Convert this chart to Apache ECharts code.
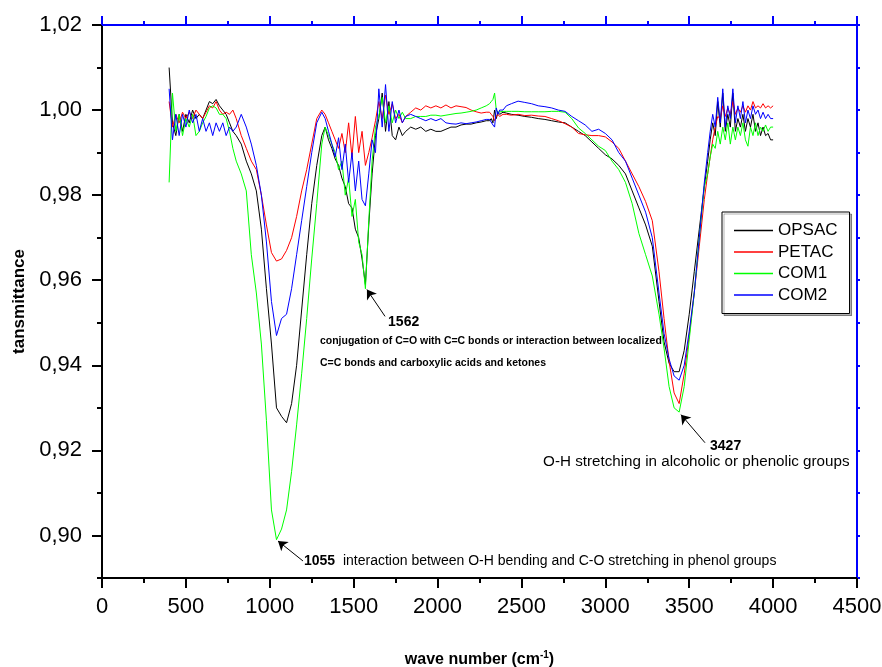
<!DOCTYPE html>
<html>
<head>
<meta charset="utf-8">
<script src="https://cdn.jsdelivr.net/npm/echarts@6/dist/echarts.min.js"></script>
<style>
  html, body { margin: 0; padding: 0; background: #fff; }
  #chart { width: 882px; height: 667px; }
</style>
</head>
<body>
<div id="chart"></div>
<script>
// wave numbers (cm-1), shared by all four spectra
const wavenumbers = [
  400, 420, 440, 460, 480, 500, 520, 540, 560, 580, 600, 620, 640, 660, 680, 700, 720, 740, 760, 780, 800,
  830, 860, 890, 920, 950, 980, 1010, 1040, 1070, 1100, 1130, 1160, 1190, 1220, 1250, 1280, 1310,
  1330, 1350, 1370, 1390, 1410, 1430, 1450, 1470, 1490, 1510, 1530, 1550, 1570, 1590, 1610, 1630, 1650, 1670, 1690, 1710, 1730, 1750, 1770, 1790, 1810,
  1840, 1870, 1900, 1930, 1960, 1990, 2020, 2050, 2080, 2110, 2140, 2170, 2200, 2230, 2260, 2290,
  2310, 2320, 2330, 2340, 2350, 2360, 2370, 2390, 2410,
  2440, 2480, 2520, 2560, 2600, 2640, 2680, 2720, 2760, 2800, 2840, 2880, 2920, 2960, 3000, 3040, 3080, 3120, 3160, 3200, 3240, 3280,
  3320, 3350, 3380, 3410, 3440, 3470, 3500, 3530, 3560, 3590,
  3610, 3625, 3640, 3655, 3670, 3685, 3700, 3715, 3730, 3745, 3760, 3775, 3790, 3805, 3820, 3835, 3850, 3865, 3880, 3895, 3910, 3925, 3940, 3955, 3970, 3985, 4000
];

const opsac = [
  1.010, 0.997, 0.994, 0.999, 0.995, 0.999, 0.997, 1.000, 0.998, 0.999, 0.998, 1.000, 1.002, 1.0015, 1.0025, 1.001, 1.000, 0.999, 0.997, 0.995, 0.994,
  0.992, 0.988, 0.985, 0.981, 0.972, 0.958, 0.945, 0.930, 0.928, 0.9265, 0.931, 0.940, 0.953, 0.966, 0.978, 0.987, 0.994,
  0.996, 0.993, 0.991, 0.9885, 0.987, 0.984, 0.982, 0.978, 0.977, 0.972, 0.970, 0.965, 0.959, 0.973, 0.985, 0.994, 0.998, 1.004, 0.995, 1.002, 0.994, 0.993, 0.996, 0.994, 0.995,
  0.996, 0.9955, 0.996, 0.995, 0.9955, 0.995, 0.995, 0.9955, 0.996, 0.996, 0.9965, 0.9967, 0.9967, 0.997, 0.9972, 0.9975,
  0.9975, 0.998, 0.997, 1.000, 0.998, 0.9995, 0.999, 0.9995, 0.9993,
  0.999, 0.9988, 0.9985, 0.9983, 0.998, 0.9978, 0.9975, 0.9972, 0.997, 0.996, 0.995, 0.994, 0.9925, 0.991, 0.9895, 0.9885, 0.987, 0.985, 0.981, 0.977, 0.973, 0.968,
  0.955, 0.9455, 0.9405, 0.9385, 0.9385, 0.9435, 0.952, 0.962, 0.972, 0.982,
  0.988, 0.993, 0.997, 0.994, 1.002, 0.996, 1.004, 0.995, 0.999, 0.996, 1.004, 0.995, 0.998, 0.996, 0.999, 0.995, 0.998, 0.996, 0.999, 0.995, 0.997, 0.994, 0.996, 0.994, 0.9945, 0.993, 0.993
];

const petac = [
  1.002, 0.996, 0.999, 0.997, 0.9995, 0.998, 0.9995, 0.998, 1.000, 0.999, 0.998, 0.9995, 1.001, 1.0005, 1.002, 1.000, 0.999, 0.9995, 0.999, 1.000, 0.998,
  0.994, 0.991, 0.988, 0.986, 0.980, 0.973, 0.9665, 0.9645, 0.965, 0.967, 0.970, 0.975, 0.981, 0.986, 0.992, 0.998, 1.000,
  0.999, 0.997, 0.995, 0.993, 0.991, 0.9945, 0.990, 0.997, 0.989, 0.9985, 0.990, 0.995, 0.987, 0.990, 0.9935, 0.9975, 1.002, 0.998, 1.0035, 0.999, 1.0015, 0.998, 0.999, 0.997, 0.9985,
  0.9995, 1.0005, 1.000, 1.001, 1.0005, 1.001, 1.0005, 1.0012, 1.0005, 1.001, 1.0008, 1.0006, 1.000, 0.9996, 0.9993, 0.9995,
  0.9995, 0.999, 0.9985, 0.9975, 0.9985, 0.999, 0.9985, 0.999, 0.999,
  0.9988, 0.999, 0.9987, 0.9988, 0.9986, 0.9985, 0.998, 0.9975, 0.9968, 0.996, 0.9945, 0.9942, 0.994, 0.994, 0.9937, 0.9925, 0.991, 0.988, 0.985, 0.982, 0.9785, 0.974,
  0.962, 0.951, 0.941, 0.9335, 0.931, 0.938, 0.947, 0.957, 0.968, 0.979,
  0.985, 0.989, 0.993, 0.996, 0.9985, 0.998, 1.001, 0.9985, 1.0005, 0.999, 1.002, 0.999, 1.0005, 0.9995, 1.001, 0.9995, 1.001, 1.000, 1.002, 1.0005, 1.001, 1.0005, 1.0015, 1.0005, 1.001, 1.0005, 1.001
];

const com1 = [
  0.983, 1.004, 0.995, 0.999, 0.994, 0.998, 0.996, 0.999, 0.994, 0.995, 0.997, 0.9985, 1.0005, 1.001, 1.0005, 0.999, 0.999, 0.998, 0.995, 0.991, 0.988,
  0.985, 0.981, 0.966, 0.957, 0.945, 0.927, 0.906, 0.899, 0.9015, 0.906, 0.915, 0.926, 0.938, 0.951, 0.965, 0.978, 0.992,
  0.996, 0.994, 0.992, 0.990, 0.986, 0.988, 0.980, 0.984, 0.975, 0.979, 0.969, 0.966, 0.958, 0.974, 0.988, 0.996, 0.9985, 1.003, 0.997, 1.001, 0.997, 1.000, 0.998, 0.9995, 0.998,
  0.998, 0.9985, 0.9985, 0.9985, 0.9988, 0.9988, 0.9986, 0.9988, 0.999, 0.9992, 0.9993, 0.9995, 0.9997, 1.000, 1.0005, 1.001,
  1.0015, 1.002, 1.0025, 1.004, 1.000, 0.9995, 0.9998, 0.9997, 0.9997,
  0.9997, 0.9997, 0.9996, 0.9996, 0.9996, 0.9996, 0.9997, 0.9997, 0.9995, 0.998, 0.9958, 0.9945, 0.993, 0.9915, 0.9905, 0.988, 0.986, 0.983, 0.978, 0.971, 0.966, 0.961,
  0.952, 0.944, 0.935, 0.930, 0.929, 0.935, 0.946, 0.957, 0.970, 0.982,
  0.985, 0.989, 0.992, 0.991, 0.995, 0.992, 0.996, 0.993, 0.997, 0.992, 0.996, 0.993, 0.996, 0.994, 0.997, 0.993, 0.9915, 0.996, 0.994, 0.997, 0.994, 0.996, 0.995, 0.9965, 0.995, 0.996, 0.996
];

const com2 = [
  1.005, 0.993, 0.999, 0.994, 0.999, 0.996, 1.000, 0.997, 0.999, 0.995, 0.998, 0.995, 0.997, 0.994, 0.997, 0.995, 0.997, 0.994, 0.996, 0.995, 0.996,
  0.999, 0.996, 0.992, 0.987, 0.980, 0.969, 0.955, 0.947, 0.951, 0.952, 0.958, 0.966, 0.974, 0.982, 0.990, 0.997, 0.9995,
  0.998, 0.995, 0.992, 0.989, 0.9935, 0.986, 0.992, 0.983, 0.990, 0.981, 0.988, 0.979, 0.9775, 0.985, 0.993, 0.990, 1.005, 0.996, 1.006, 0.995, 1.002, 0.997, 1.000, 0.997, 0.9985,
  0.999, 0.9985, 0.998, 0.9975, 0.998, 0.9975, 0.998, 0.997, 0.9968, 0.9967, 0.997, 0.9968, 0.997, 0.9972, 0.9975, 0.9978,
  0.9978, 0.998, 0.9965, 0.996, 1.0005, 0.999, 1.000, 1.000, 1.001,
  1.0015, 1.0021, 1.0018, 1.0015, 1.001, 1.0008, 1.0005, 1.000, 0.9997, 0.9985, 0.9975, 0.9965, 0.995, 0.9955, 0.9945, 0.993, 0.990, 0.988, 0.984, 0.980, 0.976, 0.970,
  0.957, 0.9475, 0.9415, 0.9375, 0.9365, 0.940, 0.948, 0.957, 0.970, 0.983,
  0.990, 0.995, 0.999, 0.996, 1.003, 0.997, 1.005, 0.996, 1.001, 0.998, 1.005, 0.997, 1.001, 0.998, 1.002, 0.997, 1.000, 0.998, 1.001, 0.999, 1.000, 0.998, 0.9995, 0.998, 0.999, 0.998, 0.998
];

const seriesNames = ['OPSAC', 'PETAC', 'COM1', 'COM2'];
const seriesColors = ['#000000', '#ff0000', '#00ff00', '#0000ff'];

// y axis ticks: labelled majors every 0.02, minors in between
const yMajor = [0.90, 0.92, 0.94, 0.96, 0.98, 1.00, 1.02];
const yMinor = [0.89, 0.91, 0.93, 0.95, 0.97, 0.99, 1.01];

// peak annotations (text anchored in data coordinates)
const notes = [
  { x: 1204, y: 0.8940, text: '1055', size: 14, weight: 'bold' },
  { x: 1436, y: 0.8940, text: 'interaction between O-H bending and C-O stretching in phenol groups', size: 14, weight: 'normal' },
  { x: 1705, y: 0.9501, text: '1562', size: 14, weight: 'bold' },
  { x: 1299, y: 0.9458, text: 'conjugation of C=O with C=C bonds or interaction between localized', size: 10.5, weight: 'bold' },
  { x: 1299, y: 0.9404, text: 'C=C bonds and carboxylic acids and ketones', size: 10.5, weight: 'bold' },
  { x: 3624, y: 0.9209, text: '3427', size: 14, weight: 'bold' },
  { x: 2629, y: 0.9173, text: 'O-H stretching in alcoholic or phenolic groups', size: 15.2, weight: 'normal' }
];
// arrows: from (x1,y1) to the peak (x2,y2)
const arrows = [
  { x1: 1198, y1: 0.8940, x2: 1049, y2: 0.8987 },
  { x1: 1687, y1: 0.9515, x2: 1579, y2: 0.9578 },
  { x1: 3594, y1: 0.9218, x2: 3451, y2: 0.9284 }
];

const font = "'Liberation Sans', Arial, sans-serif";
const fmt = v => v.toFixed(2).replace('.', ',');

let chart = echarts.init(document.getElementById('chart'));

let series = seriesNames.map((name, i) => {
  let s = {
    name: name,
    type: 'line',
    xAxisIndex: 0,
    yAxisIndex: 0,
    data: wavenumbers.map((w, k) => [w, [opsac, petac, com1, com2][i][k]]),
    showSymbol: false,
    symbol: 'none',
    lineStyle: { color: seriesColors[i], width: 1 },
    itemStyle: { color: seriesColors[i] },
    animation: false
  };
  if (i === 0) {
    s.markLine = {
      silent: true,
      animation: false,
      symbol: ['none', 'arrow'],
      symbolSize: 9,
      label: { show: false },
      lineStyle: { color: '#000', width: 1, type: 'solid' },
      data: arrows.map(a => [{ coord: [a.x1, a.y1] }, { coord: [a.x2, a.y2] }])
    };
  }
  return s;
});

let option = {
  backgroundColor: '#fff',
  animation: false,
  grid: { left: 102, right: 25, top: 25, bottom: 89, containLabel: false, outerBoundsMode: 'none' },
  legend: {
    orient: 'vertical',
    left: 722,
    top: 212,
    data: seriesNames,
    icon: 'rect',
    itemWidth: 39,
    itemHeight: 1.5,
    itemGap: 4.5,
    padding: [10, 12, 10, 12],
    borderColor: '#000',
    borderWidth: 1,
    backgroundColor: '#fff',
    shadowColor: 'rgba(0,0,0,0.3)',
    shadowOffsetX: 2,
    shadowOffsetY: 2,
    shadowBlur: 0.5,
    textStyle: { fontFamily: font, fontSize: 17, color: '#000', lineHeight: 17 }
  },
  xAxis: [{
    type: 'value',
    position: 'bottom',
    min: 0,
    max: 4500,
    interval: 500,
    name: 'wave number (cm{sup|-1})',
    nameLocation: 'middle',
    nameGap: 72,
    nameTextStyle: {
      fontFamily: font, fontSize: 16, fontWeight: 'bold', color: '#000',
      rich: { sup: { fontFamily: font, fontSize: 10, fontWeight: 'bold', color: '#000', padding: [0, 0, 9, 0] } }
    },
    axisLine: { show: true, onZero: false, lineStyle: { color: '#000', width: 2 } },
    axisTick: { show: true, length: 10, lineStyle: { color: '#000', width: 2 } },
    minorTick: { show: true, splitNumber: 2, length: 5, lineStyle: { color: '#000', width: 2 } },
    axisLabel: { fontFamily: font, fontSize: 22, color: '#000', margin: 18, formatter: v => String(v) },
    splitLine: { show: false }
  }, {
    type: 'value',
    position: 'top',
    min: 0,
    max: 4500,
    interval: 500,
    axisLine: { show: true, onZero: false, lineStyle: { color: '#0000ff', width: 2 } },
    axisTick: { show: true, length: 9, lineStyle: { color: '#0000ff', width: 2 } },
    minorTick: { show: true, splitNumber: 2, length: 4, lineStyle: { color: '#0000ff', width: 2 } },
    axisLabel: { show: false },
    splitLine: { show: false }
  }],
  yAxis: [{
    type: 'value',
    position: 'left',
    min: 0.89,
    max: 1.02,
    name: 'tansmittance',
    nameLocation: 'middle',
    nameGap: 74,
    nameTextStyle: { fontFamily: font, fontSize: 17, fontWeight: 'bold', color: '#000' },
    axisLine: { show: true, onZero: false, lineStyle: { color: '#000', width: 2 } },
    axisTick: { show: true, length: 10, customValues: yMajor, lineStyle: { color: '#000', width: 2 } },
    axisLabel: { fontFamily: font, fontSize: 22, color: '#000', margin: 20, customValues: yMajor, formatter: fmt },
    splitLine: { show: false }
  }, {
    type: 'value',
    position: 'left',
    min: 0.89,
    max: 1.02,
    axisLine: { show: false },
    axisTick: { show: true, length: 5, customValues: yMinor, lineStyle: { color: '#000', width: 2 } },
    axisLabel: { show: false },
    splitLine: { show: false }
  }, {
    type: 'value',
    position: 'right',
    min: 0.89,
    max: 1.02,
    axisLine: { show: true, onZero: false, lineStyle: { color: '#0000ff', width: 2 } },
    axisTick: { show: true, length: 3, customValues: yMajor.concat(yMinor), lineStyle: { color: '#0000ff', width: 2 } },
    axisLabel: { show: false },
    splitLine: { show: false }
  }],
  series: series
};

chart.setOption(option);

// place annotation texts from data coordinates
let graphics = notes.map(n => {
  let p = chart.convertToPixel({ xAxisIndex: 0, yAxisIndex: 0 }, [n.x, n.y]);
  return {
    type: 'text',
    x: p[0],
    y: p[1],
    silent: true,
    style: {
      text: n.text,
      fill: '#000',
      font: n.weight + ' ' + n.size + 'px ' + font,
      textAlign: 'left',
      textVerticalAlign: 'middle'
    }
  };
});
chart.setOption({ graphic: graphics });
</script>
</body>
</html>
